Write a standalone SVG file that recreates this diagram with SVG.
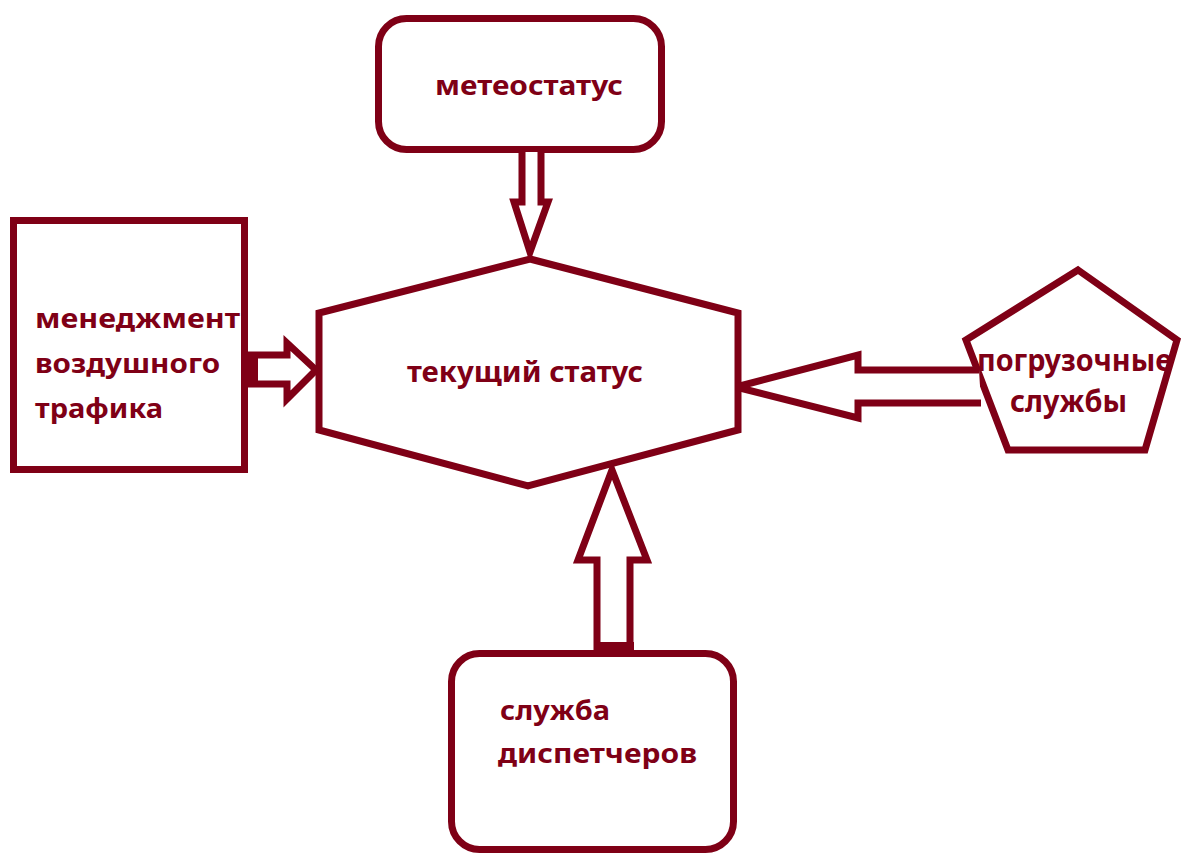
<svg xmlns="http://www.w3.org/2000/svg" width="1183" height="855" viewBox="0 0 1183 855">
  <style>
    .shape { fill: #ffffff; stroke: #7f0016; stroke-width: 7; stroke-linejoin: miter; }
    .arrow { fill: #ffffff; stroke: #7f0016; stroke-width: 7; stroke-linejoin: miter; }
    .solid { fill: #7f0016; }
    .label { font-family: "Noto Sans", "Open Sans", sans-serif; font-weight: bold; fill: #7f0016; }
  </style>
  <rect width="1183" height="855" fill="#ffffff"/>

  <g id="node-meteo">
    <rect class="shape" x="378.5" y="18.5" width="283" height="131" rx="28" ry="28"/>
    <text class="label" x="435" y="95" font-size="27" textLength="188" lengthAdjust="spacingAndGlyphs">метеостатус</text>
  </g>

  <g id="node-atm">
    <rect class="shape" x="13.5" y="220.5" width="231" height="249"/>
    <text class="label" x="35" y="328" font-size="27" textLength="205" lengthAdjust="spacingAndGlyphs">менеджмент</text>
    <text class="label" x="35" y="373" font-size="27" textLength="185" lengthAdjust="spacingAndGlyphs">воздушного</text>
    <text class="label" x="35" y="418" font-size="27" textLength="128" lengthAdjust="spacingAndGlyphs">трафика</text>
  </g>

  <g id="node-status">
    <polygon class="shape" points="530,259 738,313 738,430 528,486 319,430 319,313"/>
    <text class="label" x="407" y="382" font-size="29" textLength="236" lengthAdjust="spacingAndGlyphs">текущий статус</text>
  </g>

  <g id="node-loading">
    <polygon class="shape" points="1078,270 1177,340 1145,450 1008,450 966,340"/>
    <text class="label" x="977" y="371" font-size="31" textLength="195" lengthAdjust="spacingAndGlyphs">погрузочные</text>
    <text class="label" x="1010" y="412" font-size="31" textLength="117" lengthAdjust="spacingAndGlyphs">службы</text>
  </g>

  <g id="node-dispatch">
    <rect class="shape" x="451.5" y="653.5" width="282" height="196" rx="28" ry="28"/>
    <text class="label" x="500" y="720" font-size="26" textLength="110" lengthAdjust="spacingAndGlyphs">служба</text>
    <text class="label" x="498" y="763" font-size="26" textLength="199" lengthAdjust="spacingAndGlyphs">диспетчеров</text>
  </g>

  <g id="connectors">
    <polyline class="arrow" points="522,152 522,202 514,202 530,252 548,202 541,202 541,152"/>
    <polyline class="arrow" points="248,355 287,355 287,343 316,370 287,399 287,384 248,384"/>
    <rect class="solid" x="245" y="352" width="13" height="35"/>
    <polyline class="arrow" points="979,370 858,370 858,355 736,387 858,418 858,403 981,403"/>
    <polyline class="arrow" points="597,650 597,560 578,560 612,470 647,560 630,560 630,650"/>
    <rect class="solid" x="594" y="642" width="40" height="10"/>
  </g>
</svg>
